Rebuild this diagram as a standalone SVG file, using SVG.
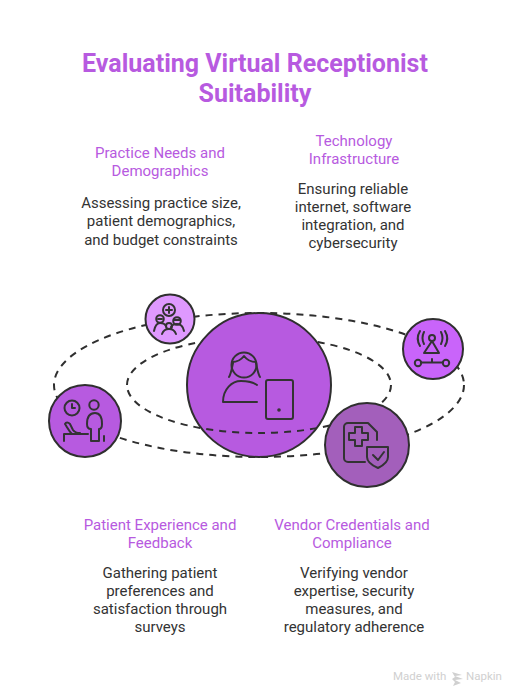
<svg xmlns="http://www.w3.org/2000/svg" width="516" height="694" viewBox="0 0 516 694">
<style>
text{font-family:Roboto,"Liberation Sans",sans-serif;text-anchor:middle}
.t{font-size:25px;font-weight:700;fill:#b75ae0}
.h{font-size:15px;fill:#b75ae0}
.b{font-size:15px;fill:#333}
.d{fill:none;stroke:#2f2f2f;stroke-width:2;stroke-dasharray:7 6}
.c{stroke:#2f2f2f;stroke-width:2}
.i{fill:none;stroke:#333;stroke-width:2;stroke-linecap:round;stroke-linejoin:round}
.w{font-size:11.500px;fill:#d0d0d0;text-anchor:start}
</style>
<rect width="516" height="694" fill="#fff"/>
<g id="title"><text class="t" x="255" y="72">Evaluating Virtual Receptionist</text><text class="t" x="255" y="102">Suitability</text></g>
<g id="connectors">
<ellipse class="d" cx="259" cy="385" rx="205" ry="72"/>
<path class="d" d="M127 385A132 48 0 0 1 391 385"/>
</g>
<g id="node-center"><circle class="c" cx="259" cy="385" r="72" fill="#b75ae0"/>
<g class="i"><circle cx="244" cy="365" r="12.500"/><path d="M233 363c-1 5-2 11-4 14M256 363c1 5 2 11 4 14M232 362c6 0 9-2 12-6 3 4 7 6 12 6"/><path d="M223 402C223 389 232 381 241 381C248 381 253 382 257 385M223 402h34"/><rect x="266" y="380" width="27" height="39" rx="2"/><circle cx="279" cy="410" r=".8"/></g></g>
<g id="inner-ring"><path class="d" d="M391 385A132 48 0 0 1 127 385"/></g>
<g id="node-practice"><circle class="c" cx="170" cy="319" r="24.500" fill="#df99ff"/>
<g class="i"><circle cx="169" cy="310" r="6"/><path d="M169 307v6M166 310h6"/><circle cx="160" cy="319" r="3.800"/><path d="M158 319h4"/><circle cx="177" cy="321" r="3.800"/><path d="M174 320h6"/><circle cx="169" cy="326" r="3"/><path d="M154 331c1-5 3-8 6-8s5 1 6 3M184 331c-1-5-3-7-7-7-3 0-5 1-6 3M162 334c1-3 3-5 7-5s6 2 7 5"/></g></g>
<g id="node-tech"><circle class="c" cx="433" cy="349" r="30" fill="#c964fa"/>
<g class="i"><circle cx="432" cy="338" r="3"/><path d="M432 341l-8 12h15z"/><path d="M424 332c-2 4-2 8 0 12M420 331c-3 5-3 10 0 15M441 332c2 4 2 8 0 12M445 331c3 5 3 10 0 15"/><circle cx="418" cy="363" r="3.200"/><circle cx="446" cy="363" r="3.200"/><path d="M421 362.500h22M432 362v-3"/></g></g>
<g id="node-patient"><circle class="c" cx="85" cy="421" r="36" fill="#b75ae0"/>
<g class="i"><circle cx="72" cy="408" r="7.500"/><path d="M72 404v4h3"/><circle cx="94" cy="405" r="4.700"/><path d="M91 441v-12c-3 0-4-2-4-5 0-7 3-11 8-11s7 4 7 11c0 3-1 5-3 5v12z"/><path d="M64 441v-7h24M80 433c-3 0-5 0-7-3l-3-6c-2-2-4-2-5 0 2 3 4 7 7 10M104 436v5"/></g></g>
<g id="node-vendor"><circle class="c" cx="367" cy="445" r="42" fill="#a35fbb"/>
<g class="i"><path d="M365 462h-17a4 4 0 0 1-4-4v-31a4 4 0 0 1 4-4h20l9 9v8"/><path d="M355 427h7v6h6v7h-6v6h-7v-6h-6v-7h6z"/><path d="M367 447h21v10c0 5-4 8-10 11-7-3-11-6-11-11z"/><path d="M373 455l5 5 6-8"/></g></g>
<g id="label-practice"><text class="h" x="160" y="158">Practice Needs and</text><text class="h" x="160" y="176">Demographics</text><text class="b" x="161" y="208">Assessing practice size,</text><text class="b" x="161" y="226">patient demographics,</text><text class="b" x="161" y="245">and budget constraints</text></g>
<g id="label-tech"><text class="h" x="354" y="146">Technology</text><text class="h" x="354" y="164">Infrastructure</text><text class="b" x="353" y="194">Ensuring reliable</text><text class="b" x="353" y="212">internet, software</text><text class="b" x="353" y="230">integration, and</text><text class="b" x="353" y="248">cybersecurity</text></g>
<g id="label-patient"><text class="h" x="160" y="530">Patient Experience and</text><text class="h" x="160" y="548">Feedback</text><text class="b" x="160" y="578">Gathering patient</text><text class="b" x="160" y="596">preferences and</text><text class="b" x="160" y="614">satisfaction through</text><text class="b" x="160" y="632">surveys</text></g>
<g id="label-vendor"><text class="h" x="352" y="530">Vendor Credentials and</text><text class="h" x="352" y="548">Compliance</text><text class="b" x="354" y="578">Verifying vendor</text><text class="b" x="354" y="596">expertise, security</text><text class="b" x="354" y="614">measures, and</text><text class="b" x="354" y="632">regulatory adherence</text></g>
<g id="watermark"><text class="w" x="393" y="680">Made with</text><path d="M452 672l10 3-7 1 8 3-8 1 6 3-8 3 2-4-3-3 3-2z" fill="#d0d0d0"/><text class="w" x="466" y="680">Napkin</text></g>
</svg>
